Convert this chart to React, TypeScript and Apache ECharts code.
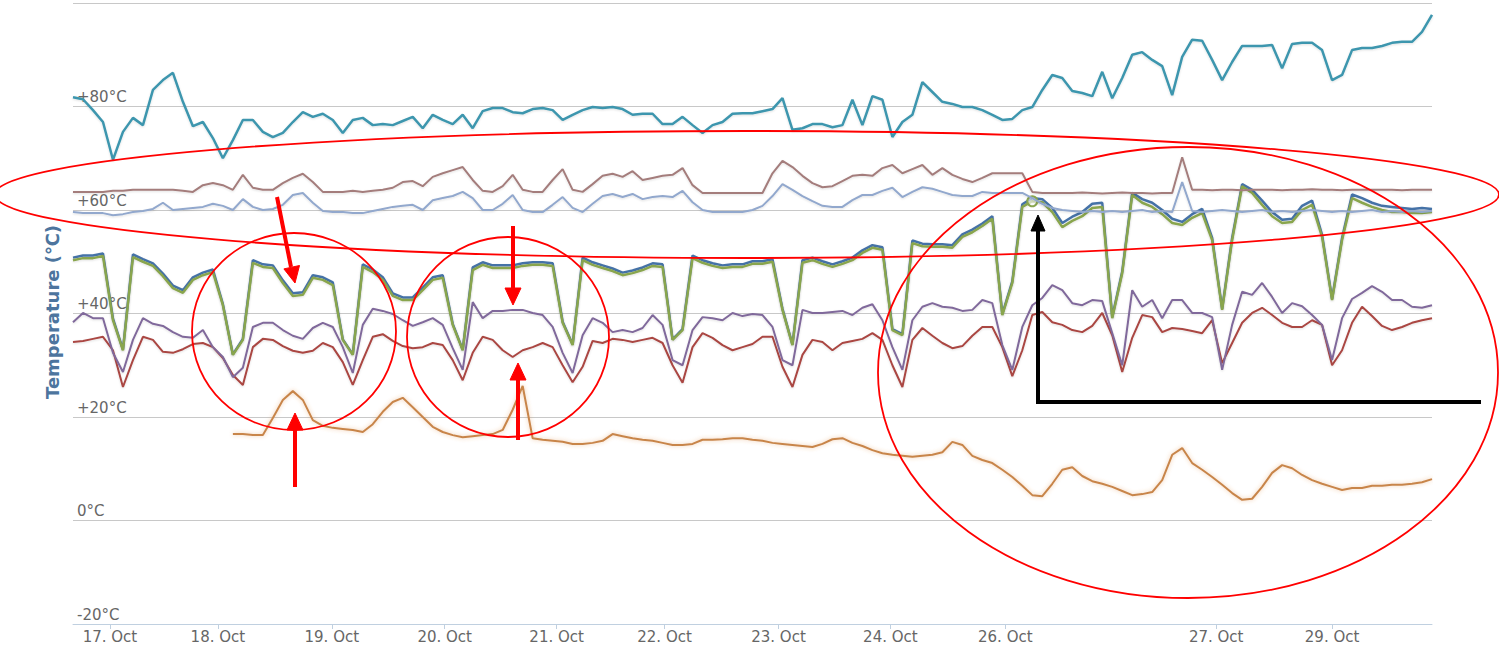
import React, { useEffect, useRef } from 'react';
import * as echarts from 'echarts';

// x index = sample number (ordinal axis, gaps removed)
const dayLabels = ['17. Oct', '18. Oct', '19. Oct', '20. Oct', '21. Oct', '22. Oct', '23. Oct', '24. Oct', '26. Oct', '27. Oct', '29. Oct'];
const dayPositions = [3.7, 14.5, 25.9, 37.2, 48.4, 59.2, 70.6, 81.8, 93.3, 114.4, 126];

const teal = [
  81.8, 81.4, 79.3, 77, 69.7, 75.1, 77.8, 76.4, 83.2, 85.1,
  86.5, 80.9, 76.2, 77, 73.9, 70, 73.5, 77.4, 77.4, 75.1,
  74.1, 74.9, 77, 78.9, 78, 78.6, 77.4, 74.9, 77.4, 77.8,
  76.4, 76.6, 76.4, 77.2, 78, 75.8, 78.4, 77.4, 76.6, 78.4,
  75.8, 79.1, 79.7, 79.7, 78.9, 78.7, 79.5, 79.7, 79.3, 77.4,
  78.4, 79.3, 79.9, 79.7, 79.9, 79.5, 78.4, 78.6, 78.6, 76.6,
  76.6, 78, 76.4, 74.9, 76.4, 77, 78.6, 78.7, 78.7, 79.1,
  79.5, 81.6, 75.5, 75.8, 76.6, 76.6, 76, 76.4, 81.3, 76.4,
  82, 81.3, 74.1, 77, 78.4, 84.7, 82.8, 80.9, 80.5, 79.9,
  79.9, 79.3, 78.4, 77.4, 77.6, 79.3, 79.9, 83.2, 86.1, 85.5,
  83, 82.6, 82, 86.7, 81.6, 85.5, 90, 90.5, 89, 87.8,
  82.2, 89.6, 92.9, 92.7, 89, 85.1, 88.6, 91.7, 91.7, 91.7,
  91.9, 87.4, 92.1, 92.3, 92.3, 90.9, 85.1, 86.1, 90.9, 91.3,
  91.3, 91.7, 92.3, 92.5, 92.5, 94.4, 97.7,
];

const rosy = [
  63.5, 63.5, 63.5, 63.5, 63.7, 63.7, 63.9, 63.9, 63.9, 63.9,
  63.9, 63.7, 63.5, 64.8, 65.2, 64.8, 63.9, 66.8, 64.3, 63.9,
  63.9, 65.2, 66.2, 67, 65.4, 63.5, 63.5, 63.5, 63.7, 63.5,
  63.7, 63.9, 64.3, 65.4, 65.6, 64.6, 66.4, 67.1, 67.7, 68.3,
  65.8, 63.7, 63.5, 64.6, 66.8, 63.9, 63.5, 63.5, 65.8, 67.9,
  63.9, 63.5, 65, 66.6, 67, 66.4, 67.5, 65.8, 66.2, 66.6,
  66.8, 68.1, 64.8, 63.3, 63.3, 63.3, 63.3, 63.3, 63.3, 63.3,
  67.1, 69.5, 68.3, 66.6, 65.2, 64.4, 64.6, 65.6, 66.6, 66.8,
  66.6, 68.1, 68.7, 67.1, 67.9, 68.7, 66.8, 68.1, 66.8, 66,
  65.4, 66.2, 67.1, 67.1, 67.1, 67.1, 63.5, 63.3, 63.3, 63.3,
  63.3, 63.4, 63.3, 63.2, 63.3, 63.4, 63.3, 63.3, 63.2, 63.3,
  63.3, 70.2, 63.9, 63.9, 63.8, 63.9, 63.9, 63.8, 63.9, 63.9,
  63.9, 63.8, 63.9, 63.9, 64, 63.9, 63.9, 63.8, 63.9, 63.9,
  63.9, 63.9, 63.9, 63.8, 63.9, 63.9, 63.9,
];

const lightBlue = [
  59.6, 59.4, 59.4, 59.4, 59, 59.2, 59.6, 59.8, 60.2, 61.4,
  60, 60.2, 60.4, 60.6, 61.2, 60.8, 60, 62.1, 60.6, 60,
  60.2, 61, 62.9, 63.3, 61.4, 59.8, 59.6, 59.6, 59.4, 59.4,
  59.8, 60.2, 60.6, 60.8, 61, 60, 61.9, 62.3, 62.7, 63.5,
  62.3, 60, 60, 61.2, 62.9, 60, 59.6, 59.6, 61, 62.5,
  60.4, 59.6, 61.2, 62.7, 63.1, 62.5, 63.1, 62.1, 62.5, 62.7,
  62.5, 63.7, 61.5, 60, 59.6, 59.6, 59.6, 59.6, 60, 60.8,
  62.7, 65, 63.9, 62.7, 61.7, 60.8, 60.6, 60.6, 61.9, 62.9,
  62.9, 63.7, 64.3, 62.5, 63.5, 64.4, 64.1, 63.5, 62.9, 62.7,
  62.7, 63.5, 63.3, 63.3, 63.3, 63.3, 62.3, 61.2, 60.4, 60,
  59.8, 59.6, 59.8, 59.6, 59.8, 59.6, 59.8, 60, 59.6, 59.8,
  59.6, 65.4, 59.8, 59.6, 59.8, 60, 59.8, 59.6, 59.8, 60,
  59.6, 59.8, 59.6, 59.8, 60, 59.8, 59.6, 59.8, 59.6, 59.8,
  60, 59.6, 59.8, 59.6, 59.8, 59.6, 59.8,
];

const green = [
  50.3, 50.7, 50.7, 51.1, 38.7, 32.9, 50.9, 50, 49.2, 47.2,
  44.9, 44, 46.5, 47.4, 48, 41.6, 32, 34.9, 49.8, 49,
  48.8, 45.9, 43.4, 43.6, 46.9, 46.5, 45.5, 34.9, 32, 49,
  48, 46.5, 43.4, 42.6, 42.6, 44.5, 46.5, 46.9, 37.8, 32.9,
  48.4, 49.4, 48.8, 48.8, 48.8, 49.2, 49.4, 49.4, 49.2, 38.2,
  33.9, 50.3, 49.4, 48.8, 48.2, 47.4, 47.8, 48.4, 49.2, 49,
  34.9, 36.8, 50.7, 49.8, 49.2, 48.8, 49, 49, 49.6, 49.6,
  50, 40.7, 33.9, 49.8, 50.3, 49.6, 49, 49.6, 50.3, 51.7,
  52.7, 52.3, 36.8, 35.8, 53.6, 53, 52.9, 52.9, 52.7, 54.8,
  55.7, 56.9, 58.3, 39.7, 45.9, 60.6, 61.7, 61.5, 59.6, 56.7,
  57.9, 58.8, 60.4, 60.6, 39.1, 47.8, 62.9, 61.4, 60.6, 59.2,
  57.5, 57.1, 58.5, 59.4, 54.2, 40.7, 54.2, 64.6, 63.3, 61,
  58.8, 57.5, 57.7, 60, 61, 54.8, 42.6, 54.2, 62.3, 61.4,
  60.6, 60, 59.6, 59.6, 59.4, 59.4, 59.6,
];

const blue = [
  50.8, 51.2, 51.2, 51.6, 39, 33, 51.4, 50.5, 49.7, 47.7,
  45.4, 44.5, 47, 47.9, 48.5, 41.8, 32.1, 35.1, 50.3, 49.5,
  49.3, 46.4, 43.9, 44.1, 47.4, 47, 46, 35, 32.1, 49.5,
  48.5, 47, 43.9, 43.1, 43.1, 45, 47, 47.4, 38, 33,
  48.9, 49.9, 49.3, 49.3, 49.3, 49.7, 49.9, 49.9, 49.7, 38.4,
  34, 50.8, 49.9, 49.3, 48.7, 47.9, 48.3, 48.9, 49.7, 49.5,
  35, 37, 51.2, 50.3, 49.7, 49.3, 49.5, 49.5, 50.1, 50.1,
  50.5, 40.9, 34, 50.3, 50.8, 50.1, 49.5, 50.1, 50.8, 52.2,
  53.2, 52.8, 37, 36, 54.1, 53.5, 53.4, 53.4, 53.2, 55.3,
  56.2, 57.4, 58.8, 39.9, 46.2, 61.1, 62.3, 62.1, 60.4, 57.5,
  58.7, 59.6, 61.2, 61.4, 39.3, 48.1, 63.3, 62.1, 61.4, 60,
  58.3, 57.7, 59.2, 60.2, 54.6, 40.9, 54.6, 65, 63.9, 61.8,
  59.6, 58.1, 58.3, 60.8, 61.8, 55.2, 42.8, 54.6, 63, 62.3,
  61.4, 60.8, 60.6, 60.4, 60.2, 60.4, 60.2,
];

const purple = [
  38.3, 40.1, 39.1, 39.1, 32.4, 28.7, 34.9, 39.1, 38, 37.6,
  36.4, 35.5, 35.3, 36.8, 33.5, 31.6, 27.7, 29.5, 37.4, 38.2,
  38.2, 36.8, 35.7, 35.1, 37.2, 38.2, 37.4, 33.5, 28.5, 37.8,
  40.9, 40.5, 39.9, 38.7, 37.6, 38.3, 39.1, 37.8, 33.3, 29.1,
  42.2, 39.1, 40.5, 40.5, 40.7, 40.7, 40.1, 39.7, 37.4, 32.4,
  28.5, 35.8, 39.1, 38.2, 36.4, 36.8, 36.4, 37.2, 39.7, 37.8,
  31, 30, 36.8, 39.3, 39.1, 38.7, 40.1, 39.5, 39.9, 39.7,
  37.4, 31, 30, 40.7, 40.1, 40.1, 40.3, 40.5, 39.7, 41.1,
  41.8, 38.7, 33.5, 29.1, 38.7, 41.3, 42, 41.3, 41.1, 40.5,
  40.7, 42.6, 42, 33.9, 29.1, 37.4, 41.6, 43, 45.5, 44.5,
  42, 41.6, 42.6, 42.4, 36.2, 30, 44.5, 41.3, 42.6, 39.1,
  42.6, 42.6, 40.1, 40.1, 39.3, 29.1, 37.8, 44.2, 43.6, 45.9,
  43.2, 40.1, 42, 41.4, 39.7, 37.8, 31, 39.1, 42.8, 44,
  45.3, 44.2, 42.6, 42.6, 41.3, 41.1, 41.6,
];

const red = [
  34.5, 34.7, 35.1, 35.5, 32.9, 25.8, 31, 35.5, 34.9, 32.6,
  32.4, 33.1, 34.1, 34.3, 33.5, 31.4, 28.1, 26.2, 33.5, 35.1,
  34.9, 33.7, 32.8, 32.4, 32.8, 34.3, 33.5, 30.6, 26.2, 31,
  35.5, 36, 34.7, 33.7, 33.3, 33.5, 34.3, 33.9, 31, 27.1,
  32.4, 35.5, 34.9, 32.9, 31.6, 32.9, 33.5, 34.3, 33.5, 30,
  26.7, 29.7, 34.7, 34.3, 35.1, 34.9, 34.5, 34.9, 35.3, 34.3,
  30, 26.6, 33.5, 36.2, 35.3, 33.9, 32.9, 33.5, 34.1, 35.5,
  35.5, 29.7, 25.8, 32, 34.9, 34.5, 32.9, 34.3, 34.7, 35.1,
  36.2, 34.9, 30, 25.8, 34.9, 37.2, 35.7, 34.3, 33.3, 33.7,
  35.7, 37.4, 37.4, 33.5, 27.9, 32.9, 39.7, 40.3, 38.3, 37.8,
  36.8, 36.4, 37.6, 40.1, 35.8, 28.7, 35.3, 39.7, 39.3, 36.4,
  37.2, 37, 36.6, 36.2, 38.7, 30.4, 34.3, 38.2, 40.1, 41.1,
  39.7, 38.2, 37.4, 37.4, 38.7, 37.8, 30, 32.9, 38.2, 41.3,
  39.5, 37.6, 36.8, 37.4, 38.2, 38.7, 39.1,
];

const orange = [
  null, null, null, null, null, null, null, null, null, null,
  null, null, null, null, null, null, 16.7, 16.7, 16.5, 16.5,
  19.8, 23.3, 25, 23.3, 19.4, 18.3, 17.9, 17.7, 17.5, 17.1,
  18.6, 21, 22.9, 23.7, 21.9, 20, 18.1, 17.1, 16.5, 16.1,
  16.3, 16.5, 16.7, 17.5, 21.4, 26, 15.9, 15.6, 15.4, 15.2,
  14.8, 14.8, 15, 15.4, 16.7, 16.3, 15.9, 15.6, 15.4, 15,
  14.6, 14.6, 14.8, 15.6, 15.6, 15.7, 15.9, 15.9, 15.6, 15.4,
  15, 14.8, 14.6, 14.4, 14.2, 14.8, 15.7, 15.9, 15, 14.4,
  13.6, 13, 12.7, 12.5, 12.3, 12.5, 12.7, 13.2, 15.2, 14.6,
  12.5, 11.7, 11.1, 9.8, 8.4, 6.7, 4.9, 4.7, 7.1, 9.8,
  10.3, 8.6, 7.6, 7.1, 6.5, 5.7, 4.9, 5.1, 5.5, 7.8,
  12.7, 14, 11.1, 9.8, 8.4, 6.9, 5.3, 4, 4.2, 6.5,
  9.2, 10.7, 10.1, 8.8, 7.8, 7.1, 6.5, 5.9, 6.3, 6.3,
  6.7, 6.7, 6.9, 6.9, 7.1, 7.4, 8,
];

const highlightIndex = 96;

export default function App() {
  const ref = useRef<HTMLDivElement>(null);

  useEffect(() => {
    const chart = echarts.init(ref.current as HTMLDivElement, null, { renderer: 'svg' });
    const toPts = (arr: (number | null)[]) => arr.map((v, i) => [i, v === null ? '-' : v]);
    const mk = (name: string, color: string, arr: (number | null)[], width: number, extra: any = {}) => ({
      name,
      type: 'line',
      data: toPts(arr),
      showSymbol: false,
      symbol: 'none',
      silent: true,
      lineStyle: { color, width, shadowColor: 'rgba(0,0,0,0.12)', shadowBlur: 2, shadowOffsetY: 1 },
      itemStyle: { color },
      ...extra,
    });

    const red0 = '#ff0000';
    const arrowHead = (pts: number[][], color: string) => ({
      type: 'polygon', z: 100, shape: { points: pts }, style: { fill: color, stroke: color, lineWidth: 1 },
    });
    const shaft = (x1: number, y1: number, x2: number, y2: number, color: string) => ({
      type: 'line', z: 100, shape: { x1, y1, x2, y2 }, style: { stroke: color, lineWidth: 4 },
    });

    chart.setOption({
      animation: false,
      grid: { left: 73, right: 67, top: 3, bottom: 27, containLabel: false },
      xAxis: {
        type: 'value',
        min: 0,
        max: 136,
        splitLine: { show: false },
        axisLine: { onZero: false, lineStyle: { color: '#c0d0e0', width: 1 } },
        axisTick: { show: true, length: 5, lineStyle: { color: '#c0d0e0' }, customValues: dayPositions },
        axisLabel: {
          customValues: dayPositions,
          formatter: (v: number) => {
            const k = dayPositions.findIndex((p) => Math.abs(p - v) < 0.01);
            return k >= 0 ? dayLabels[k] : '';
          },
          color: '#666',
          fontSize: 15,
          fontFamily: 'DejaVu Sans',
          margin: 5,
        },
      },
      yAxis: {
        type: 'value',
        min: -20,
        max: 100,
        interval: 20,
        axisLine: { show: false },
        axisTick: { show: false },
        splitLine: { lineStyle: { color: '#c8c8c8', width: 1 } },
        axisLabel: {
          inside: true,
          margin: 4,
          align: 'left',
          verticalAlign: 'bottom',
          padding: [0, 0, 2, 0],
          color: '#666',
          fontSize: 15,
          fontFamily: 'DejaVu Sans',
          formatter: (v: number) => (v === 100 ? '' : v > 0 ? '+' + v + '°C' : v + '°C'),
        },
      },
      series: [
        mk('Blue', '#4572A7', blue, 2.5, { z: 2 }),
        mk('Red', '#AA4643', red, 2, { z: 3 }),
        mk('Green', '#89A54E', green, 2.5, {
          z: 4,
          markPoint: {
            symbol: 'circle',
            symbolSize: 10,
            silent: true,
            label: { show: false },
            itemStyle: { color: 'rgba(255,255,255,0.6)', borderColor: '#89A54E', borderWidth: 2 },
            data: [{ coord: [highlightIndex, green[highlightIndex]] }],
          },
        }),
        mk('Purple', '#80699B', purple, 2, { z: 5 }),
        mk('Teal', '#3D96AE', teal, 2.5, { z: 6 }),
        mk('Orange', '#DB843D', orange, 2, {
          z: 7,
          lineStyle: { color: '#C8854A', width: 2, shadowColor: 'rgba(219,132,61,0.45)', shadowBlur: 4 },
        }),
        mk('Light blue', '#92A8CD', lightBlue, 2, { z: 8 }),
        mk('Rosy', '#A47D7C', rosy, 2, { z: 9 }),
      ],
      graphic: [
        {
          type: 'text',
          x: 52,
          y: 312,
          rotation: Math.PI / 2,
          z: 50,
          style: {
            text: 'Temperature (℃)',
            fill: '#4d759e',
            font: 'bold 18px "DejaVu Sans"',
            align: 'center',
            verticalAlign: 'middle',
            textAlign: 'center',
            textVerticalAlign: 'middle',
          },
        },
        // red annotation ellipses
        { type: 'ellipse', z: 100, shape: { cx: 747, cy: 194.5, rx: 752, ry: 63.5 }, style: { fill: 'none', stroke: red0, lineWidth: 1.8 } },
        { type: 'ellipse', z: 100, shape: { cx: 294, cy: 331.5, rx: 102, ry: 98.5 }, style: { fill: 'none', stroke: red0, lineWidth: 1.8 } },
        { type: 'ellipse', z: 100, shape: { cx: 508, cy: 337, rx: 101, ry: 100 }, style: { fill: 'none', stroke: red0, lineWidth: 1.8 } },
        { type: 'ellipse', z: 100, shape: { cx: 1188, cy: 372.5, rx: 310, ry: 225.5 }, style: { fill: 'none', stroke: red0, lineWidth: 1.8 } },
        // red arrows
        shaft(277, 197, 291, 267, red0),
        arrowHead([[295, 283], [299.5, 265.5], [283.9, 268.9]], red0),
        shaft(513, 226, 513, 290, red0),
        arrowHead([[513, 305], [505, 288], [521, 288]], red0),
        shaft(295, 487, 295, 428, red0),
        arrowHead([[295, 413], [287, 430], [303, 430]], red0),
        shaft(518, 440, 518, 378, red0),
        arrowHead([[518, 363], [510, 380], [526, 380]], red0),
        // black arrow
        {
          type: 'polyline', z: 100,
          shape: { points: [[1481, 402], [1038, 402], [1038, 228]] },
          style: { stroke: '#000', lineWidth: 4, fill: 'none' },
        },
        arrowHead([[1038, 215], [1031, 231], [1045, 231]], '#000'),
      ],
    });

    return () => chart.dispose();
  }, []);

  return <div ref={ref} style={{ position: 'fixed', left: 0, top: 0, width: 1499, height: 651, background: '#fff' }} />;
}
